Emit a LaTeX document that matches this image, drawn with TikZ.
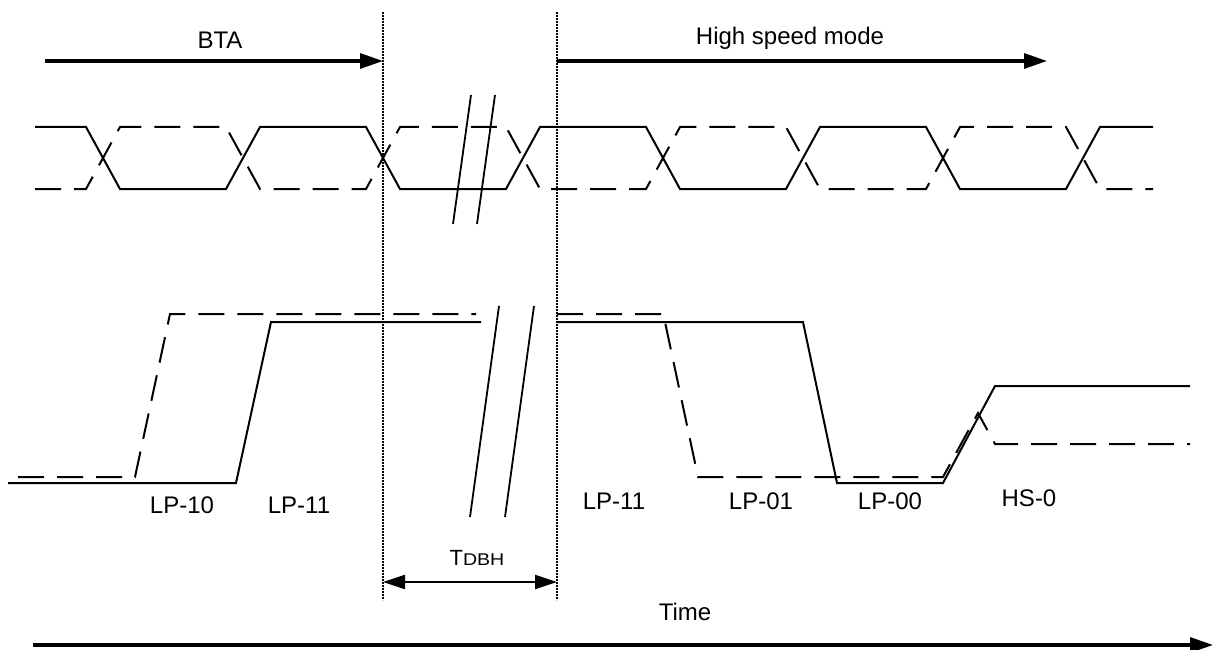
\documentclass[tikz,border=0pt]{standalone}
\usepackage{fontspec}
\setmainfont{Liberation Sans}
\usetikzlibrary{arrows.meta}
\begin{document}
\begin{tikzpicture}[x=1pt,y=-1pt,
  wave/.style={line width=2pt, line join=miter},
  dwave/.style={line width=2pt, dash pattern=on 26pt off 13pt},
  brk/.style={line width=1.8pt},
  vdot/.style={line width=2.4pt, dash pattern=on 2pt off 1pt},
  bigarrow/.style={line width=3.2pt, -{Triangle[length=23pt,width=15pt]}},
  dimarrow/.style={line width=2.2pt, {Triangle[length=22pt,width=14pt]}-{Triangle[length=22pt,width=14pt]}},
  lbl/.style={font=\fontsize{24}{27}\selectfont, inner sep=0pt}]
\useasboundingbox (0,0) rectangle (1213,650);

% vertical dotted lines
\coordinate (v1t) at (383,12); \coordinate (v1b) at (383,600);
\coordinate (v2t) at (557,12); \coordinate (v2b) at (557,600);
\draw[vdot] (v1t) -- (v1b);
\draw[vdot] (v2t) -- (v2b);

% top arrows
\coordinate (btaS) at (45,61); \coordinate (btaE) at (383,61);
\coordinate (hsS) at (557,61); \coordinate (hsE) at (1047,61);
\draw[bigarrow] (btaS) -- (btaE);
\draw[bigarrow] (hsS) -- (hsE);
\node[lbl] (bta) at (220,40) {BTA};
\node[lbl] (hsm) at (790,38) {High speed mode};

% top differential waveform
\draw[wave] (35,127) -- (86,127) -- (120,189) -- (226,189) -- (260,127) -- (366,127) -- (400,189) -- (506,189) -- (540,127) -- (646,127) -- (680,189) -- (786,189) -- (820,127) -- (926,127) -- (960,189) -- (1066,189) -- (1100,127) -- (1153,127);
\draw[dwave] (35,189) -- (86,189) -- (120,127) -- (226,127) -- (260,189) -- (366,189) -- (400,127) -- (506,127) -- (540,189) -- (646,189) -- (680,127) -- (786,127) -- (820,189) -- (926,189) -- (960,127) -- (1066,127) -- (1100,189) -- (1153,189);

% top break marks
\draw[brk] (453,224) -- (471,95);
\draw[brk] (477,224) -- (495,95);

% bottom single-ended waveforms
\draw[wave] (8,483) -- (236,483) -- (271,322) -- (481,322);
\draw[dwave] (18,477) -- (135,477) -- (170,314) -- (476,314);
\draw[wave] (557,322) -- (803,322) -- (837,483) -- (943,483) -- (995,386) -- (1190,386);
\draw[dwave] (557,314) -- (664,314) -- (665,322) -- (698,477) -- (943,477) -- (978,413) -- (995,444) -- (1190,444);

% bottom break marks
\draw[brk] (470,517) -- (499,306);
\draw[brk] (505,517) -- (534,306);

% state labels
\node[lbl] (lp10) at (182,505) {LP-10};
\node[lbl] (lp11a) at (299,505) {LP-11};
\node[lbl] (lp11b) at (614,501) {LP-11};
\node[lbl] (lp01) at (761,501) {LP-01};
\node[lbl] (lp00) at (890,501) {LP-00};
\node[lbl] (hs0) at (1029,498) {HS-0};

% TDBH dimension
\coordinate (dA) at (383,582); \coordinate (dB) at (557,582);
\draw[dimarrow] (dA) -- (dB);
\node[lbl, font=\fontsize{22}{25}\selectfont] (tdbh) at (477,558) {T\scalebox{1.15}[1]{\fontsize{17}{19}\selectfont DBH}};

% time axis
\coordinate (tS) at (33,645); \coordinate (tE) at (1213,645);
\draw[bigarrow] (tS) -- (tE);
\node[lbl] (time) at (685,612) {Time};
\end{tikzpicture}
\end{document}
